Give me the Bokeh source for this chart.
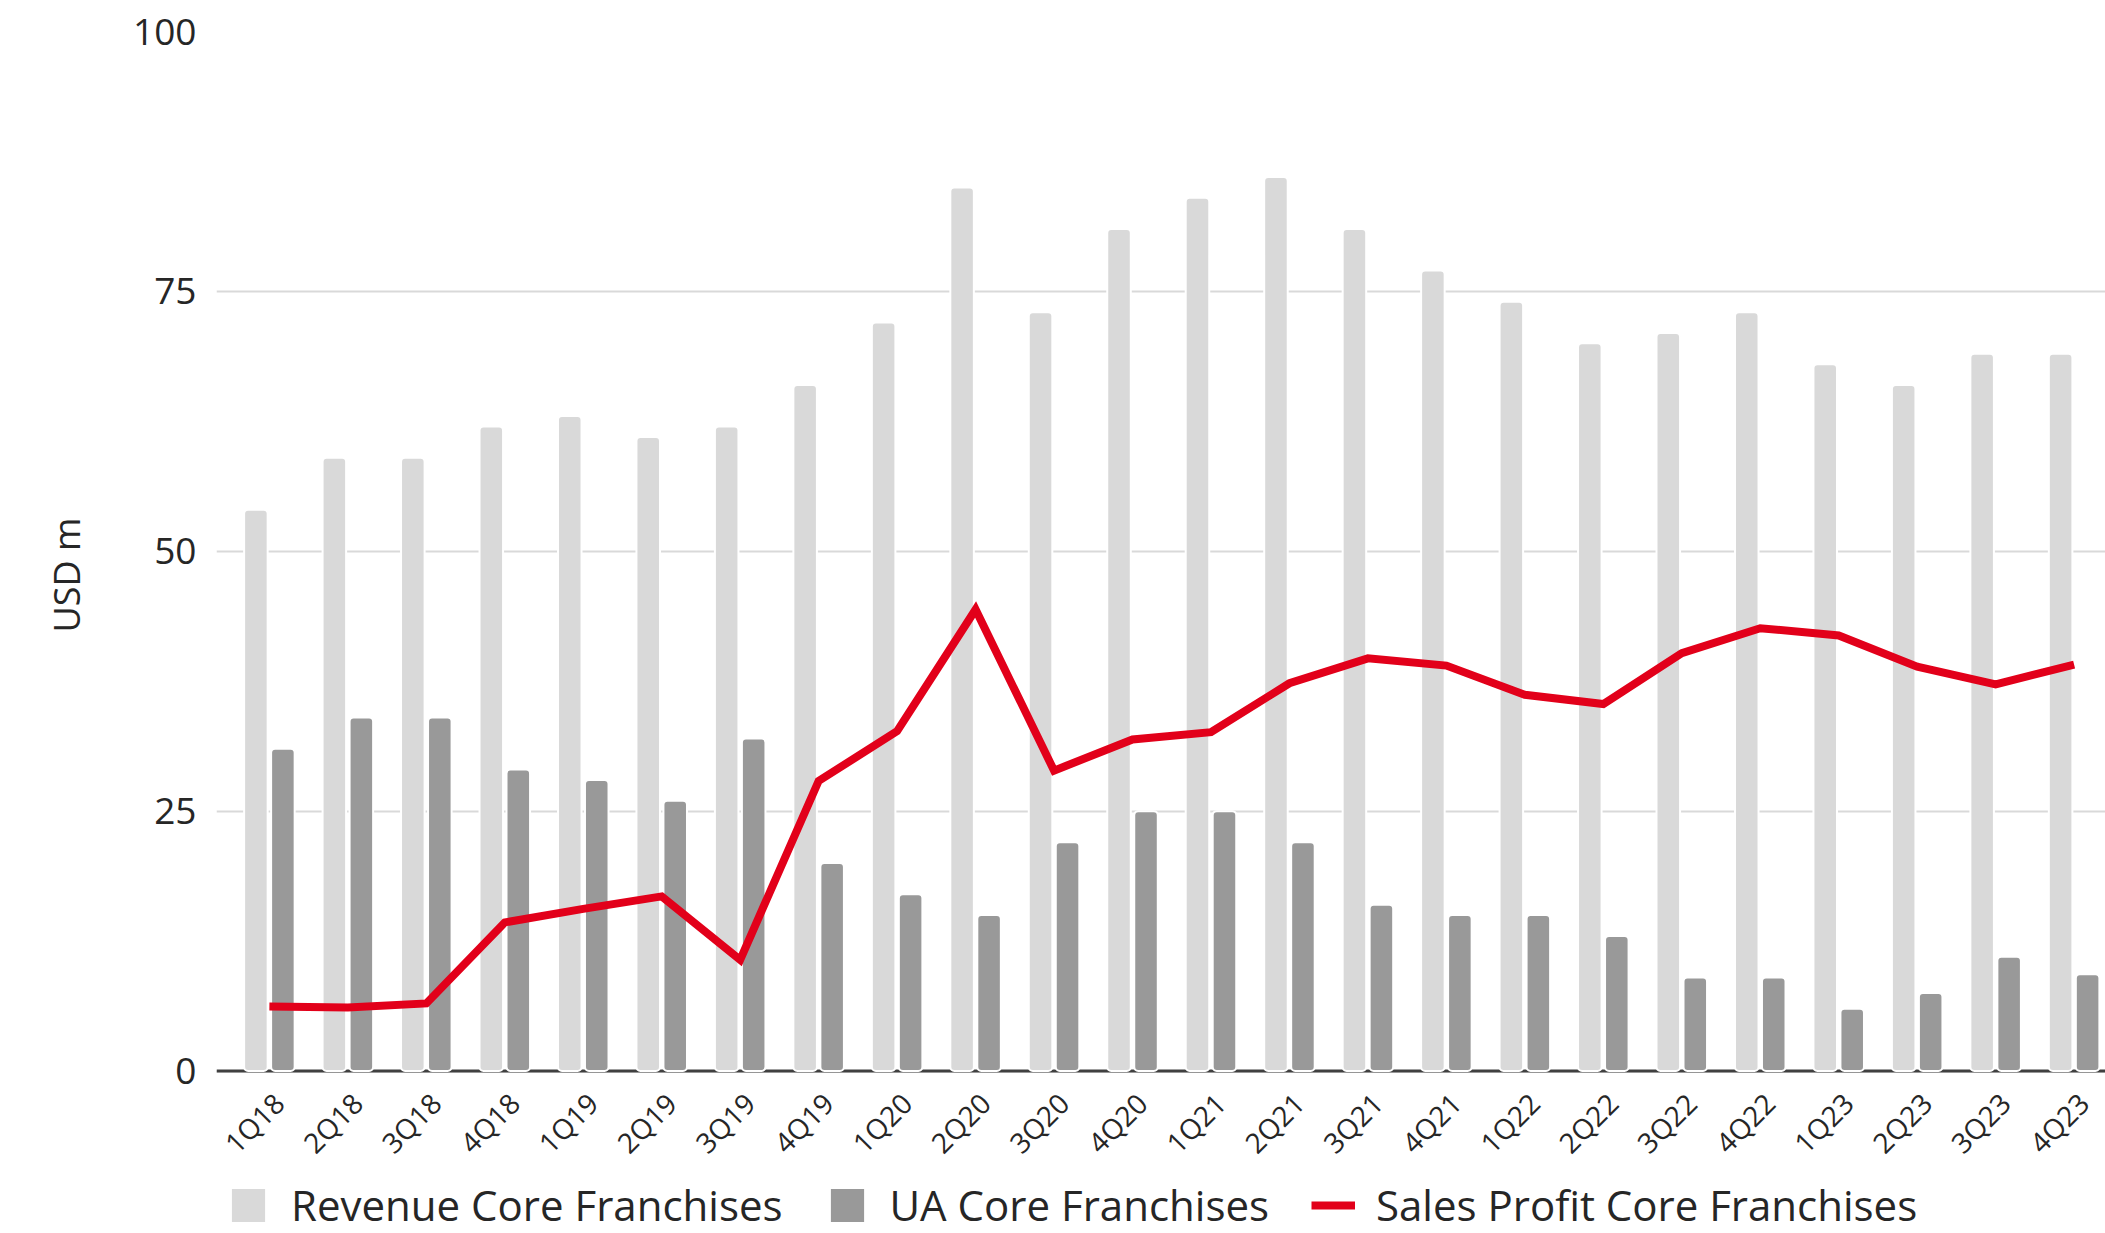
import math
from bokeh.plotting import figure
from bokeh.models import (Range1d, FixedTicker, Span, Legend, LegendItem,
                          ColumnDataSource, Title)
from bokeh.transform import dodge
from bokeh.embed import file_html
from bokeh.resources import INLINE

quarters = ["1Q18", "2Q18", "3Q18", "4Q18", "1Q19", "2Q19", "3Q19", "4Q19",
            "1Q20", "2Q20", "3Q20", "4Q20", "1Q21", "2Q21", "3Q21", "4Q21",
            "1Q22", "2Q22", "3Q22", "4Q22", "1Q23", "2Q23", "3Q23", "4Q23"]
revenue = [54, 59, 59, 62, 63, 61, 62, 66, 72, 85, 73, 81,
           84, 86, 81, 77, 74, 70, 71, 73, 68, 66, 69, 69]
ua = [31, 34, 34, 29, 28, 26, 32, 20, 17, 15, 22, 25,
      25, 22, 16, 15, 15, 13, 9, 9, 6, 7.5, 11, 9.3]
sales_profit = [6.2, 6.1, 6.5, 14.3, 15.6, 16.8, 10.7, 27.9, 32.7, 44.4, 28.9, 31.9,
                32.6, 37.3, 39.7, 39.0, 36.2, 35.3, 40.2, 42.6, 41.9, 38.9, 37.2, 39.1]
y_ticks = [0, 25, 50, 75, 100]

FONT = "Open Sans"
TXT = "#262626"

idx = list(range(len(quarters)))
src = ColumnDataSource(dict(x=idx, revenue=revenue, ua=ua, profit=sales_profit))

# frame runs to the bottom of the page; the x axis sits at y = 0 inside it
p = figure(width=2105, height=1233, output_backend="svg", toolbar_location=None,
           x_range=Range1d(-0.674, 23.4), y_range=Range1d(-15.63, 100),
           min_border_left=212, min_border_right=0, min_border_top=31,
           min_border_bottom=0)
p.outline_line_color = None
p.background_fill_color = "white"

r_rev = p.vbar(x=dodge("x", -0.172), top="revenue", width=0.30, bottom=0, source=src,
               fill_color="#D9D9D9", line_color="white", line_width=2, border_radius=4)
r_ua = p.vbar(x=dodge("x", 0.172), top="ua", width=0.30, bottom=0, source=src,
              fill_color="#999999", line_color="white", line_width=2, border_radius=4)
r_sp = p.line(x="x", y="profit", source=src, line_color="#E2001A", line_width=8,
              line_join="miter")

zero = Span(location=0, dimension="width", line_color="#404040", line_width=3,
            level="underlay")
p.add_layout(zero)

# y axis
p.yaxis.ticker = FixedTicker(ticks=y_ticks)
p.yaxis.axis_line_color = None
p.yaxis.major_tick_line_color = None
p.yaxis.major_tick_out = 0
p.yaxis.major_tick_in = 0
p.yaxis.minor_tick_line_color = None
p.yaxis.major_label_text_font = FONT
p.yaxis.major_label_text_font_size = "37px"
p.yaxis.major_label_text_color = TXT
p.yaxis.major_label_standoff = 20

ytitle = Title(text="USD m", align="left", offset=601, vertical_align="bottom",
               standoff=79, text_font=FONT, text_font_size="36px",
               text_font_style="normal", text_color=TXT)
p.add_layout(ytitle, "left")

# x axis: labels anchored slightly right of each category centre
label_pos = [i + 0.12 for i in idx]
p.xaxis.fixed_location = 0
p.xaxis.ticker = FixedTicker(ticks=label_pos)
p.xaxis.major_label_overrides = {x: q for x, q in zip(label_pos, quarters)}
p.xaxis.major_label_orientation = math.pi / 4
p.xaxis.axis_line_color = None
p.xaxis.major_tick_line_color = None
p.xaxis.major_tick_out = 0
p.xaxis.major_tick_in = 0
p.xaxis.minor_tick_line_color = None
p.xaxis.major_label_text_font = FONT
p.xaxis.major_label_text_font_size = "28px"
p.xaxis.major_label_text_color = TXT
p.xaxis.major_label_standoff = 27

p.xgrid.grid_line_color = None
p.ygrid.ticker = FixedTicker(ticks=y_ticks)
p.ygrid.grid_line_color = "#D9D9D9"
p.ygrid.grid_line_width = 2

legend = Legend(items=[LegendItem(label="Revenue Core Franchises", renderers=[r_rev]),
                       LegendItem(label="UA Core Franchises", renderers=[r_ua]),
                       LegendItem(label="Sales Profit Core Franchises", renderers=[r_sp])],
                orientation="horizontal", location=(10, 0),
                glyph_width=44, glyph_height=44, label_standoff=21, spacing=42,
                padding=0, margin=0, border_line_color=None, background_fill_alpha=0,
                label_text_font=FONT, label_text_font_size="42px",
                label_text_color=TXT)
p.add_layout(legend, "center")

open("out.html", "w").write(file_html(p, INLINE))
